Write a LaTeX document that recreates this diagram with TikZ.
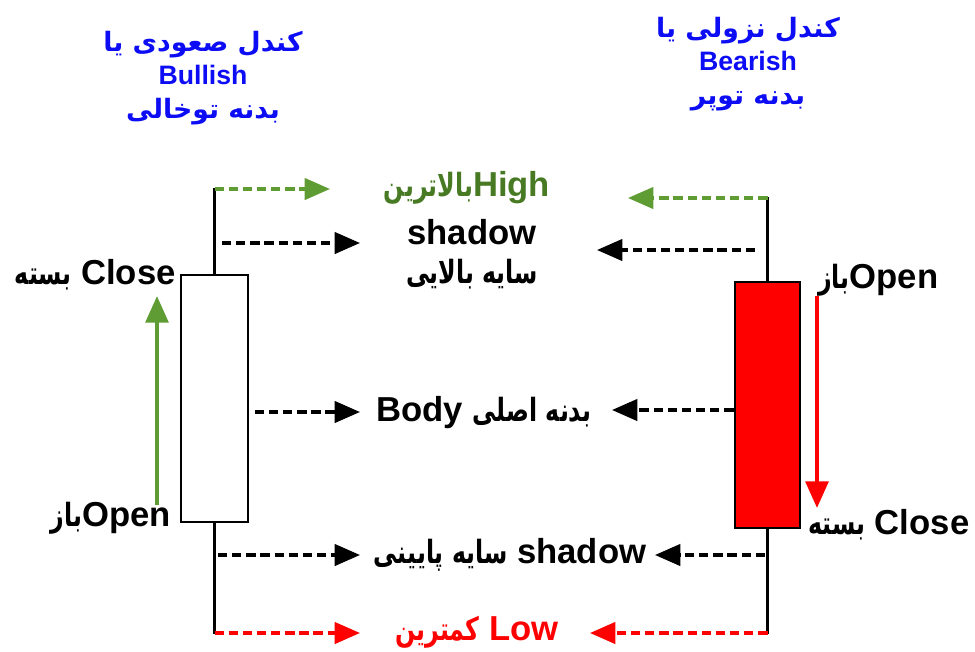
\documentclass[tikz,border=0pt]{standalone}
\usepackage{fontspec}
\setmainfont{Liberation Sans}
\newfontfamily\arabicfont[Script=Arabic]{DejaVu Sans}
\newfontfamily\arabiclabel[Script=Arabic,FakeStretch=0.74]{DejaVu Sans}
\TeXXeTstate=1
\usetikzlibrary{arrows.meta}

\definecolor{bullgreen}{RGB}{96,156,52}
\definecolor{highgreen}{RGB}{72,122,36}
\definecolor{bearred}{RGB}{255,0,0}
\definecolor{titleblue}{RGB}{12,12,245}
\newcommand{\fatitle}[1]{{\arabicfont\beginR #1\endR}}
\newcommand{\falabel}[1]{{\arabiclabel\bfseries\fontsize{24}{28}\selectfont\beginR #1\endR}}

\tikzset{
  wick/.style={line width=2.2pt, line cap=rect},
  candlebox/.style={draw, line width=2.2pt, inner sep=0pt},
  dasharrow/.style={line width=2.4pt, dash pattern=on 7pt off 3.6pt,
    -{Triangle[length=19pt,width=16pt]}},
  movearrow/.style={line width=3pt, -{Triangle[length=20pt,width=17pt]}},
  titletext/.style={align=center, text=titleblue,
    font=\fontsize{20}{25}\selectfont\bfseries},
  labeltext/.style={inner sep=0pt, font=\fontsize{26}{30}\selectfont\bfseries}
}

\begin{document}
\begin{tikzpicture}[x=0.75pt,y=-0.75pt]
  \useasboundingbox (0,0) rectangle (975,651);

  % candles
  \node[candlebox, fill=white, minimum width=50.25pt, minimum height=185.25pt]
    (bullBody) at (214.5,398.5) {};
  \node[candlebox, fill=bearred, minimum width=48.75pt, minimum height=184.5pt]
    (bearBody) at (767.5,405) {};
  \coordinate (bullHigh) at (214.5,189);
  \coordinate (bullLow) at (214.5,633);
  \coordinate (bearHigh) at (767.5,198);
  \coordinate (bearLow) at (767.5,633);
  \draw[wick] (bullBody.north) -- (bullHigh);
  \draw[wick] (bullBody.south) -- (bullLow);
  \draw[wick] (bearBody.north) -- (bearHigh);
  \draw[wick] (bearBody.south) -- (bearLow);

  % titles
  \node[titletext] (bullTitle) at (203,78)
    {\fatitle{کندل صعودی یا}\\Bullish\\\fatitle{بدنه توخالی}};
  \node[titletext] (bearTitle) at (748,64)
    {\fatitle{کندل نزولی یا}\\Bearish\\\fatitle{بدنه توپر}};

  % middle labels
  \node[labeltext, text=highgreen] (highLbl) at (467,188) {\falabel{بالاترین}High};
  \node[labeltext] (upShadow) at (472,232) {shadow};
  \node[labeltext] (upShadowFa) at (472,274) {\falabel{سایه بالایی}};
  \node[labeltext] (bodyLbl) at (484,413) {Body \falabel{بدنه اصلی}};
  \node[labeltext] (lowShadow) at (510,555) {\falabel{سایه پایینی} shadow};
  \node[labeltext, text=bearred] (lowLbl) at (477,632) {\falabel{کمترین} Low};

  % side labels
  \node[labeltext, anchor=east] (bullClose) at (176,275) {\falabel{بسته} Close};
  \node[labeltext, anchor=east] (bullOpen) at (171,518) {\falabel{باز}Open};
  \node[labeltext, anchor=west] (bearOpen) at (818,280) {\falabel{باز}Open};
  \node[labeltext, anchor=west] (bearClose) at (808,525) {\falabel{بسته} Close};

  % pointers left
  \coordinate (bullHighEnd) at (330,189);
  \coordinate (bullUpStart) at (222,243);
  \coordinate (bullUpEnd) at (360,243);
  \coordinate (bullBodyEnd) at (360,412);
  \coordinate (bullDnStart) at (218,555);
  \coordinate (bullDnEnd) at (360,555);
  \coordinate (bullLowEnd) at (360,633);
  \draw[dasharrow, bullgreen] (bullHigh) -- (bullHighEnd);
  \draw[dasharrow] (bullUpStart) -- (bullUpEnd);
  \draw[dasharrow] ([xshift=4pt]bullBody.east |- bullBodyEnd) -- (bullBodyEnd);
  \draw[dasharrow] (bullDnStart) -- (bullDnEnd);
  \draw[dasharrow, bearred] (bullLow) -- (bullLowEnd);

  % pointers right
  \coordinate (bearHighEnd) at (628,198);
  \coordinate (bearUpStart) at (755,250);
  \coordinate (bearUpEnd) at (597,250);
  \coordinate (bearBodyEnd) at (612,410);
  \coordinate (bearDnStart) at (765,555);
  \coordinate (bearDnEnd) at (655,555);
  \coordinate (bearLowEnd) at (590,633);
  \draw[dasharrow, bullgreen] (bearHigh) -- (bearHighEnd);
  \draw[dasharrow] (bearUpStart) -- (bearUpEnd);
  \draw[dasharrow] (bearBody.west |- bearBodyEnd) -- (bearBodyEnd);
  \draw[dasharrow] (bearDnStart) -- (bearDnEnd);
  \draw[dasharrow, bearred] (bearLow) -- (bearLowEnd);

  % price direction
  \coordinate (upFrom) at (157,505);
  \coordinate (upTo) at (157,296);
  \coordinate (downFrom) at (817,296);
  \coordinate (downTo) at (817,508);
  \draw[movearrow, bullgreen] (upFrom) -- (upTo);
  \draw[movearrow, bearred] (downFrom) -- (downTo);
\end{tikzpicture}
\end{document}
